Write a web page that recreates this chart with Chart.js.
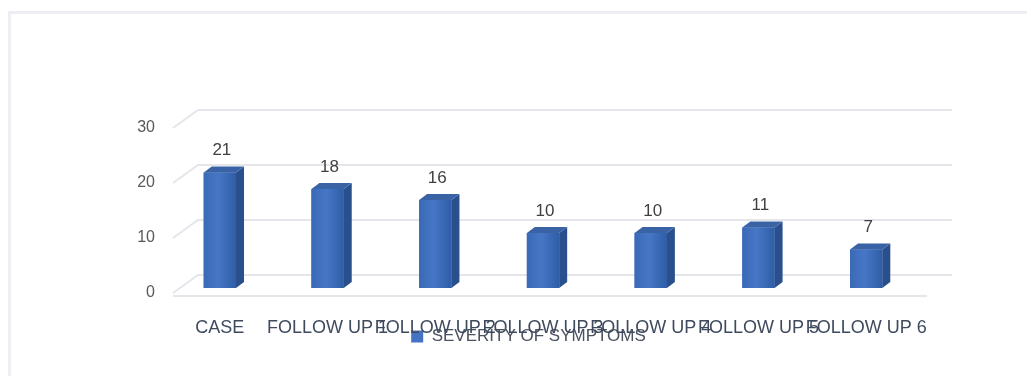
<!DOCTYPE html>
<html>
<head>
<meta charset="utf-8">
<script src="https://cdn.jsdelivr.net/npm/chart.js"></script>
<style>
  html, body { margin: 0; padding: 0; background: #fff; }
  #frame { position: absolute; left: 8px; top: 11px; width: 1030px; height: 380px; border: 3px solid #eceef3; }
  #wrap { position: absolute; left: 0; top: 0; width: 1027px; height: 376px; }
</style>
</head>
<body>
<div id="frame"></div>
<div id="wrap"><canvas id="chart" width="1027" height="376"></canvas></div>
<script>
const categories = ['CASE', 'FOLLOW UP 1', 'FOLLOW UP 2', 'FOLLOW UP 3', 'FOLLOW UP 4', 'FOLLOW UP 5', 'FOLLOW UP 6'];
const severity = [21, 18, 16, 10, 10, 11, 7];
const seriesName = 'SEVERITY OF SYMPTOMS';
const yMin = 0, yMax = 30, yStep = 10;

const FONT = "'Liberation Sans', Arial, sans-serif";

// fake 3d: back wall grid + side/top faces of the bars
const depth = { dx: 8, dy: -6 };
const wall = { fx: 7, fy: 5, bx: 32, by: -13 };

const wallPlugin = {
  id: 'wall',
  afterLayout(chart) {
    // legend sits tight under the category labels, like the original
    const lg = chart.legend;
    if (lg) { lg.top -= 8; lg.bottom -= 8; }
  },
  beforeDatasetsDraw(chart) {
    const { ctx, chartArea } = chart;
    const y = chart.scales.y;
    ctx.save();
    ctx.strokeStyle = '#e4e6eb';
    ctx.lineWidth = 2;
    y.ticks.forEach(t => {
      const py = y.getPixelForValue(t.value);
      ctx.beginPath();
      ctx.moveTo(chartArea.left + wall.fx, py + wall.fy);
      ctx.lineTo(chartArea.left + wall.bx, py + wall.by);
      ctx.lineTo(chartArea.right + wall.bx, py + wall.by);
      ctx.stroke();
    });
    const p0 = y.getPixelForValue(0);
    ctx.beginPath();
    ctx.moveTo(chartArea.left + wall.fx, p0 + 8);
    ctx.lineTo(chartArea.right + wall.fx, p0 + 8);
    ctx.stroke();
    ctx.restore();
  }
};

const barPlugin = {
  id: 'bars3d',
  afterDatasetsDraw(chart) {
    const { ctx } = chart;
    const meta = chart.getDatasetMeta(0);
    ctx.save();
    meta.data.forEach((bar, i) => {
      const { x, y, width, base } = bar.getProps(['x', 'y', 'width', 'base'], true);
      const l = x - width / 2, r = x + width / 2;
      // front shading
      const g = ctx.createLinearGradient(l, 0, r, 0);
      g.addColorStop(0, '#3a69b6');
      g.addColorStop(0.45, '#4677c6');
      g.addColorStop(1, '#2f5da6');
      ctx.fillStyle = g;
      ctx.fillRect(l, y, width, base - y);
      // side
      ctx.fillStyle = '#2a4f8d';
      ctx.beginPath();
      ctx.moveTo(r, y);
      ctx.lineTo(r + depth.dx, y + depth.dy);
      ctx.lineTo(r + depth.dx, base + depth.dy);
      ctx.lineTo(r, base);
      ctx.closePath();
      ctx.fill();
      // top
      ctx.fillStyle = '#3a63a6';
      ctx.beginPath();
      ctx.moveTo(l, y);
      ctx.lineTo(l + depth.dx, y + depth.dy);
      ctx.lineTo(r + depth.dx, y + depth.dy);
      ctx.lineTo(r, y);
      ctx.closePath();
      ctx.fill();
      // value label
      ctx.fillStyle = '#404040';
      ctx.font = '17px ' + FONT;
      ctx.textAlign = 'center';
      ctx.textBaseline = 'middle';
      ctx.fillText(String(severity[i]), x + 2, y - 22);
    });
    ctx.restore();
  }
};

new Chart(document.getElementById('chart'), {
  type: 'bar',
  data: {
    labels: categories,
    datasets: [{
      label: seriesName,
      data: severity,
      backgroundColor: '#4472c4',
      borderWidth: 0,
      categoryPercentage: 1,
      barPercentage: 0.3
    }]
  },
  options: {
    responsive: false,
    animation: false,
    layout: { padding: { left: 137, right: 107, top: 123, bottom: 13 } },
    scales: {
      x: {
        grid: { display: false, drawTicks: false },
        border: { display: false },
        afterFit(scale) { scale.height = 48; },
        ticks: {
          autoSkip: false, maxRotation: 0, minRotation: 0,
          padding: 39,
          color: '#3f4a5e',
          font: { family: FONT, size: 18, lineHeight: 0.1 }
        }
      },
      y: {
        min: yMin, max: yMax,
        grid: { display: false, drawTicks: false },
        border: { display: false },
        afterFit(scale) { scale.width = 29; },
        ticks: {
          stepSize: yStep,
          padding: 11,
          labelOffset: 5,
          color: '#595959',
          font: { family: FONT, size: 16 }
        }
      }
    },
    plugins: {
      tooltip: { enabled: false },
      legend: {
        position: 'bottom',
        labels: {
          color: '#4a5260',
          font: { family: FONT, size: 17 },
          boxWidth: 12, boxHeight: 12,
          padding: 0
        }
      }
    }
  },
  plugins: [wallPlugin, barPlugin]
});
</script>
</body>
</html>
